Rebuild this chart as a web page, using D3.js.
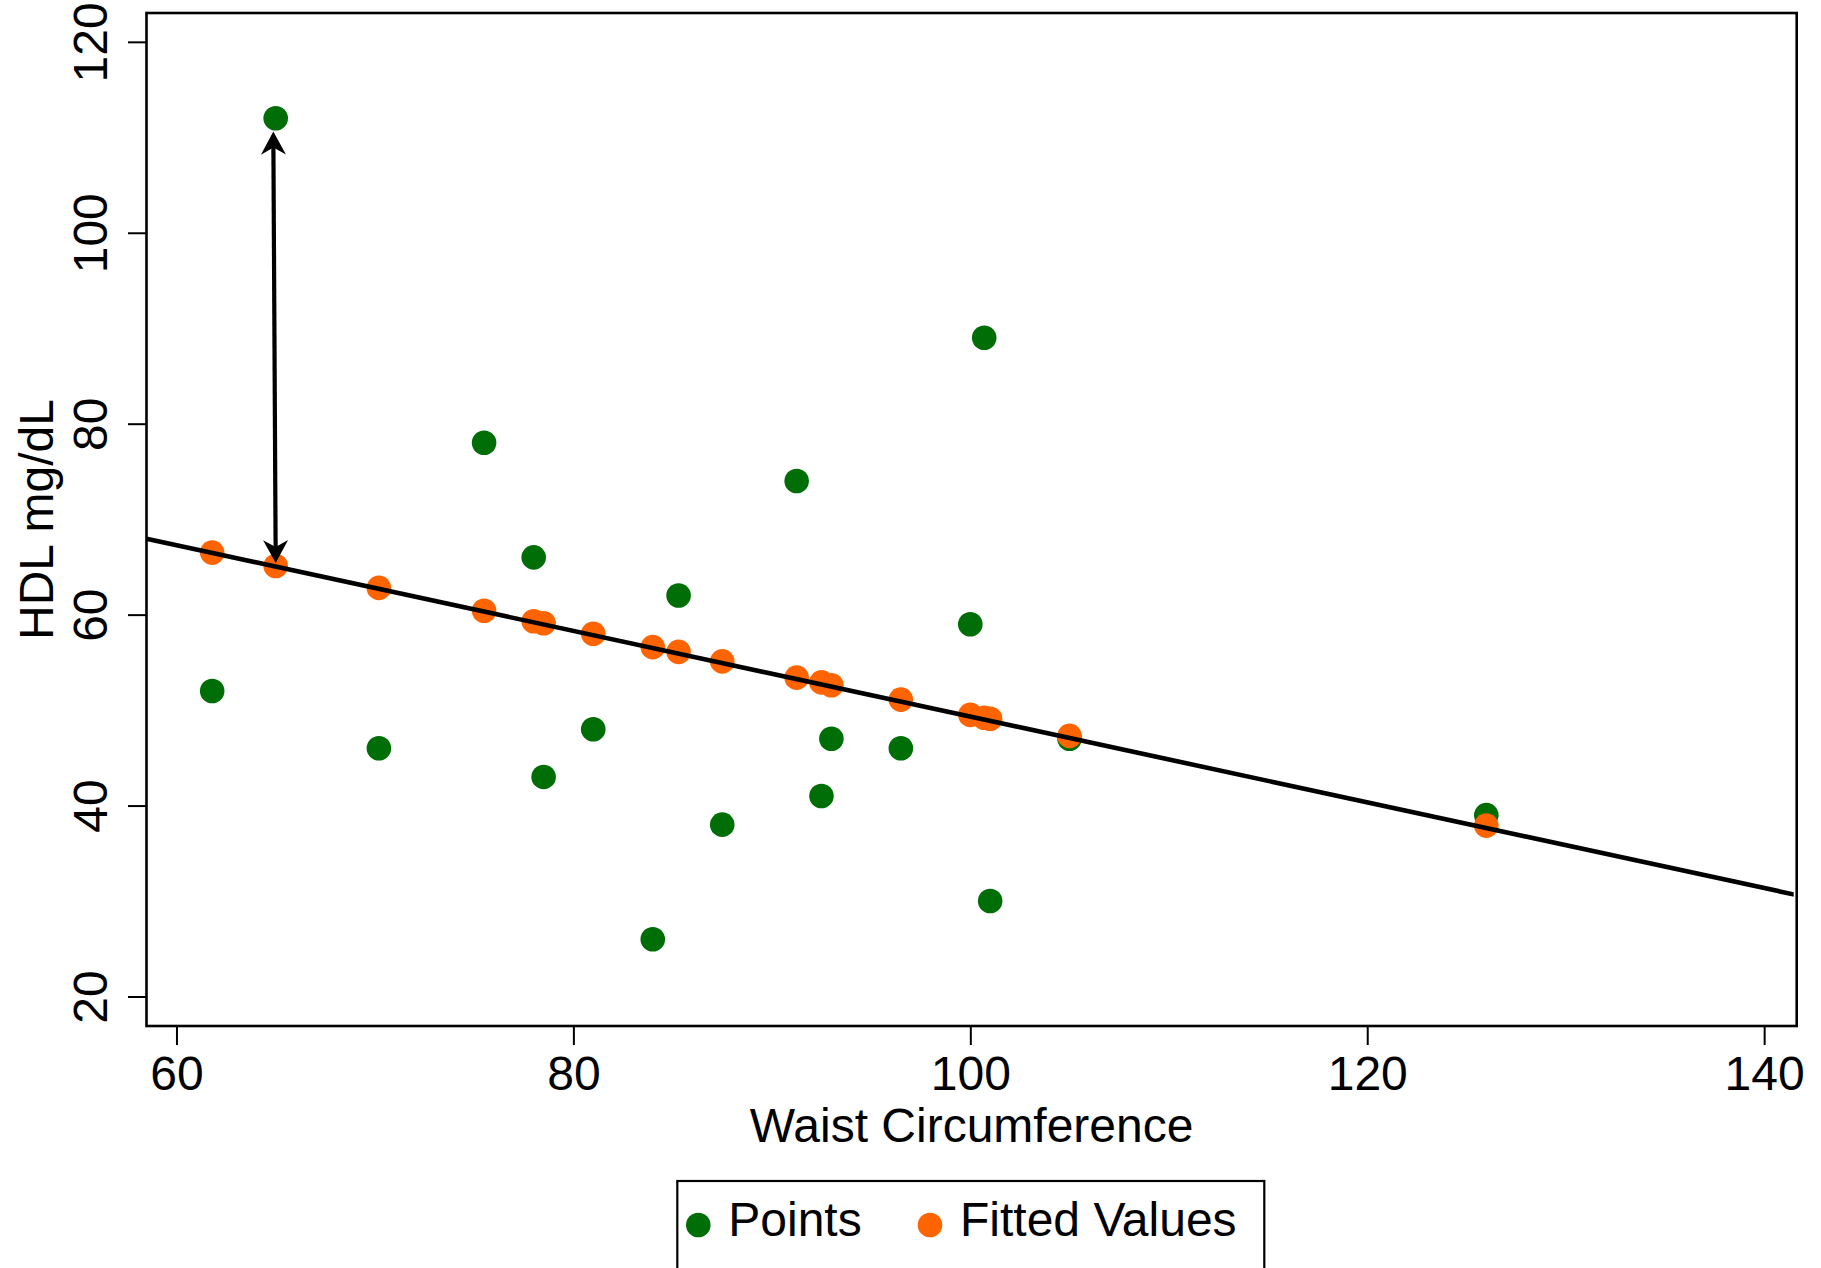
<!DOCTYPE html>
<html>
<head>
<meta charset="utf-8">
<script src="https://cdn.jsdelivr.net/npm/d3@7"></script>
<style>
    html, body { margin: 0; padding: 0; background: #fff; }
    svg { display: block; font-family: "Liberation Sans", Arial, Helvetica, sans-serif; }
</style>
</head>
<body>
<svg id="chart" width="1821" height="1268"></svg>
<script>
'use strict';

// values
const waist = [61.8, 65, 70.2, 75.5, 78, 78.5, 81, 84, 85.3, 87.5, 91.25, 92.5, 93, 96.5, 100, 100.7, 101, 105, 126];
const hdl = [52, 112, 46, 78, 66, 43, 48, 26, 62, 38, 74, 41, 47, 46, 59, 89, 30, 47, 39];
const fitted = [66.5, 65.1, 62.8, 60.4, 59.3, 59.1, 58.0, 56.6, 56.1, 55.1, 53.4, 52.9, 52.6, 51.1, 49.5, 49.2, 49.1, 47.3, 37.9];

const fitIntercept = 94.22;
const fitSlope = -0.449;

const xTicks = [60, 80, 100, 120, 140];
const yTicks = [20, 40, 60, 80, 100, 120];

// residual arrow for the point at waist 65
const arrowBottom = [65.0, 65.4];
const arrowTop = [64.88, 110.6];

const legendItems = ['Points', 'Fitted Values'];

const colours = {
    points: '#006e06',
    fitted: '#ff6400'
};

const box = {left: 146.5, right: 1796.7, top: 13, bottom: 1026};
const fontSize = 48;
const radius = 12.3;

const x = d3.scaleLinear().domain([58.49, 141.64]).range([box.left, box.right]);
const y = d3.scaleLinear().domain([16.91, 123.02]).range([box.bottom, box.top]);

const svg = d3.select('#chart');

// clip so the fit line stays inside the plot region
svg.append('clipPath')
    .attr('id', 'plotClip')
    .append('rect')
    .attr('x', box.left)
    .attr('y', box.top)
    .attr('width', box.right - box.left - 3)
    .attr('height', box.bottom - box.top);

// barbed arrowhead like stata draws
svg.append('defs')
    .append('marker')
    .attr('id', 'head')
    .attr('markerUnits', 'userSpaceOnUse')
    .attr('viewBox', '-24 -14 26 28')
    .attr('refX', 0)
    .attr('refY', 0)
    .attr('markerWidth', 26)
    .attr('markerHeight', 28)
    .attr('orient', 'auto-start-reverse')
    .append('path')
    .attr('d', 'M0,0 L-23,-12.5 L-16,0 L-23,12.5 Z')
    .attr('fill', '#000');

// x axis
const xAxis = d3.axisBottom(x)
    .tickValues(xTicks)
    .tickSize(19)
    .tickPadding(8)
    .tickFormat(d3.format('d'));

const gx = svg.append('g')
    .attr('transform', `translate(0, ${box.bottom})`)
    .call(xAxis);
gx.select('.domain').remove();
gx.selectAll('.tick line').attr('stroke', '#000').attr('stroke-width', 2);
gx.selectAll('.tick text')
    .attr('fill', '#000')
    .attr('font-size', fontSize)
    .attr('dy', null)
    .attr('y', 63.5);

// y axis, labels turned like the picture
const yAxis = d3.axisLeft(y)
    .tickValues(yTicks)
    .tickSize(18.5)
    .tickFormat(d3.format('d'));

const gy = svg.append('g')
    .attr('transform', `translate(${box.left}, 0)`)
    .call(yAxis);
gy.select('.domain').remove();
gy.selectAll('.tick line').attr('stroke', '#000').attr('stroke-width', 2);
gy.selectAll('.tick text')
    .attr('fill', '#000')
    .attr('font-size', fontSize)
    .attr('x', null)
    .attr('dy', null)
    .attr('text-anchor', 'middle')
    .attr('transform', 'translate(-40, 0) rotate(-90)');

// axis titles
svg.append('text')
    .attr('x', (box.left + box.right) / 2)
    .attr('y', 1142)
    .attr('text-anchor', 'middle')
    .attr('font-size', fontSize)
    .text('Waist Circumference');

svg.append('text')
    .attr('transform', `translate(53, ${(box.top + box.bottom) / 2}) rotate(-90)`)
    .attr('text-anchor', 'middle')
    .attr('font-size', fontSize)
    .text('HDL mg/dL');

// observed points
svg.append('g')
    .selectAll('circle')
    .data(waist)
    .enter()
    .append('circle')
    .attr('cx', (d) => x(d))
    .attr('cy', (d, i) => y(hdl[i]))
    .attr('r', radius)
    .attr('fill', colours.points);

// fitted values
svg.append('g')
    .selectAll('circle')
    .data(waist)
    .enter()
    .append('circle')
    .attr('cx', (d) => x(d))
    .attr('cy', (d, i) => y(fitted[i]))
    .attr('r', radius)
    .attr('fill', colours.fitted);

// fit line across the whole plot
const lineEnds = x.domain();
svg.append('line')
    .attr('clip-path', 'url(#plotClip)')
    .attr('x1', x(lineEnds[0]))
    .attr('y1', y(fitIntercept + fitSlope * lineEnds[0]))
    .attr('x2', x(lineEnds[1]))
    .attr('y2', y(fitIntercept + fitSlope * lineEnds[1]))
    .attr('stroke', '#000')
    .attr('stroke-width', 4.6);

// residual arrow, shortened a bit so the shaft hides under the heads
let ax1 = x(arrowBottom[0]), ay1 = y(arrowBottom[1]);
let ax2 = x(arrowTop[0]), ay2 = y(arrowTop[1]);
let len = Math.hypot(ax2 - ax1, ay2 - ay1);
let ux = (ax2 - ax1) / len, uy = (ay2 - ay1) / len;
let cut = 12;

svg.append('line')
    .attr('x1', ax1 + ux * cut)
    .attr('y1', ay1 + uy * cut)
    .attr('x2', ax2 - ux * cut)
    .attr('y2', ay2 - uy * cut)
    .attr('stroke', '#000')
    .attr('stroke-width', 4.2);

svg.append('path')
    .attr('d', `M${ax1},${ay1}L${ax1 + ux * (cut + 1)},${ay1 + uy * (cut + 1)}`)
    .attr('marker-start', 'url(#head)')
    .attr('stroke', 'none')
    .attr('fill', 'none');

svg.append('path')
    .attr('d', `M${ax2 - ux * (cut + 1)},${ay2 - uy * (cut + 1)}L${ax2},${ay2}`)
    .attr('marker-end', 'url(#head)')
    .attr('stroke', 'none')
    .attr('fill', 'none');

// plot border
svg.append('rect')
    .attr('x', box.left)
    .attr('y', box.top)
    .attr('width', box.right - box.left)
    .attr('height', box.bottom - box.top)
    .attr('fill', 'none')
    .attr('stroke', '#000')
    .attr('stroke-width', 2.6);

// legend, its box runs off the bottom edge like the picture
const legend = svg.append('g');
legend.append('rect')
    .attr('x', 677.3)
    .attr('y', 1181)
    .attr('width', 587)
    .attr('height', 200)
    .attr('fill', '#fff')
    .attr('stroke', '#000')
    .attr('stroke-width', 2.2);

const legendX = [698.3, 930];
const legendFill = [colours.points, colours.fitted];

legend.selectAll('circle')
    .data(legendItems)
    .enter()
    .append('circle')
    .attr('cx', (d, i) => legendX[i])
    .attr('cy', 1225)
    .attr('r', radius)
    .attr('fill', (d, i) => legendFill[i]);

legend.selectAll('text')
    .data(legendItems)
    .enter()
    .append('text')
    .attr('x', (d, i) => legendX[i] + 30)
    .attr('y', 1236)
    .attr('font-size', fontSize)
    .text((d) => d);
</script>
</body>
</html>
